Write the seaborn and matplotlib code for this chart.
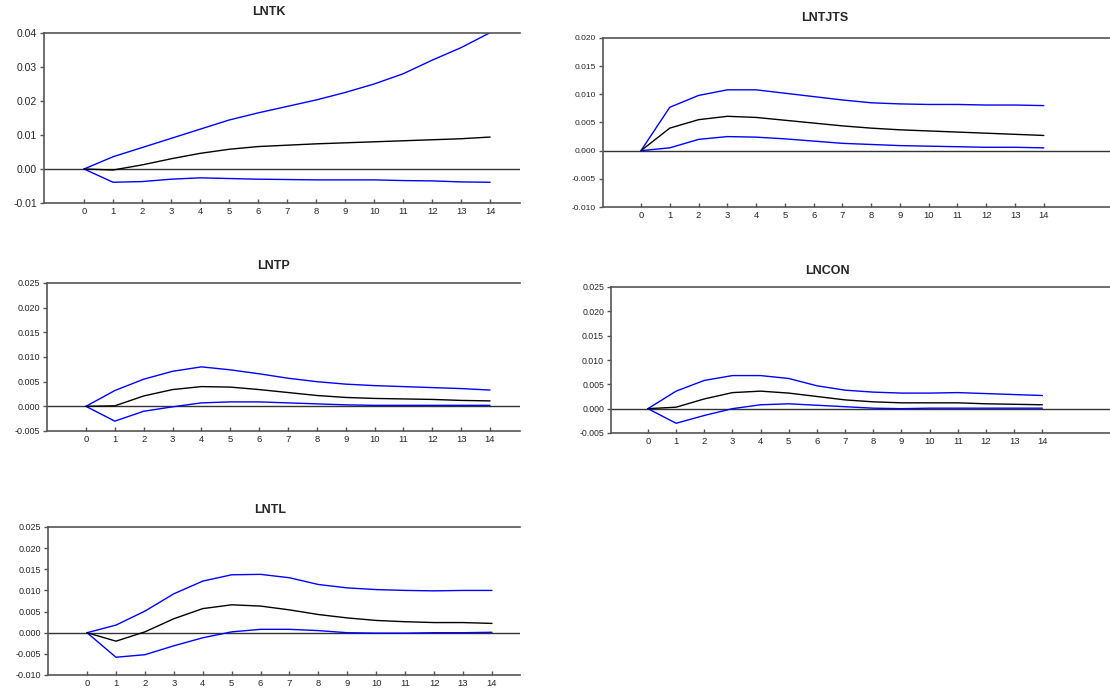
import matplotlib
matplotlib.use("Agg")
import matplotlib.pyplot as plt
import seaborn as sns
import pandas as pd

# periods 0..14 (impulse response horizon)
periods = list(range(15))

# LNTK
lntk_resp = [0, -0.0003, 0.0012, 0.0030, 0.0046, 0.0058, 0.0066, 0.0070, 0.0074, 0.0077, 0.0080, 0.0083, 0.0086, 0.0089, 0.0094]
lntk_upper = [0, 0.0036, 0.0063, 0.0090, 0.0117, 0.0144, 0.0165, 0.0184, 0.0203, 0.0225, 0.0250, 0.0280, 0.0320, 0.0357, 0.0401]
lntk_lower = [0, -0.0039, -0.0037, -0.0030, -0.0026, -0.0028, -0.0030, -0.0031, -0.0032, -0.0032, -0.0032, -0.0034, -0.0035, -0.0038, -0.0039]

# LNTJTS
lntjts_resp = [0, 0.0040, 0.0055, 0.0061, 0.0059, 0.0054, 0.0049, 0.0044, 0.0040, 0.0037, 0.0035, 0.0033, 0.0031, 0.0029, 0.0027]
lntjts_upper = [0, 0.0077, 0.0098, 0.0108, 0.0108, 0.0102, 0.0096, 0.0090, 0.0085, 0.0083, 0.0082, 0.0082, 0.0081, 0.0081, 0.0080]
lntjts_lower = [0, 0.0005, 0.0020, 0.0025, 0.0024, 0.0021, 0.0017, 0.0013, 0.0011, 0.0009, 0.0008, 0.0007, 0.0006, 0.0006, 0.0005]

# LNTP
lntp_resp = [0, 0.0001, 0.0021, 0.0034, 0.0040, 0.0039, 0.0034, 0.0028, 0.0022, 0.0018, 0.0016, 0.0015, 0.0014, 0.0012, 0.0011]
lntp_upper = [0, 0.0032, 0.0055, 0.0071, 0.0080, 0.0074, 0.0066, 0.0057, 0.0050, 0.0045, 0.0042, 0.0040, 0.0038, 0.0036, 0.0033]
lntp_lower = [0, -0.0030, -0.0010, -0.0001, 0.0007, 0.0009, 0.0009, 0.0007, 0.0005, 0.0003, 0.0002, 0.0002, 0.0002, 0.0002, 0.0002]

# LNCON
lncon_resp = [0, 0.0003, 0.0020, 0.0033, 0.0036, 0.0032, 0.0025, 0.0018, 0.0014, 0.0012, 0.0012, 0.0012, 0.0010, 0.0009, 0.0008]
lncon_upper = [0, 0.0036, 0.0058, 0.0068, 0.0068, 0.0062, 0.0047, 0.0038, 0.0034, 0.0032, 0.0032, 0.0033, 0.0031, 0.0029, 0.0027]
lncon_lower = [0, -0.0030, -0.0014, 0.0000, 0.0008, 0.0010, 0.0007, 0.0004, 0.0001, 0.0000, 0.0001, 0.0001, 0.0001, 0.0001, 0.0001]

# LNTL
lntl_resp = [0, -0.0020, 0.0002, 0.0033, 0.0057, 0.0066, 0.0063, 0.0054, 0.0043, 0.0035, 0.0029, 0.0026, 0.0024, 0.0024, 0.0022]
lntl_upper = [0, 0.0018, 0.0051, 0.0092, 0.0122, 0.0137, 0.0138, 0.0130, 0.0114, 0.0106, 0.0102, 0.0100, 0.0099, 0.0100, 0.0100]
lntl_lower = [0, -0.0058, -0.0052, -0.0031, -0.0012, 0.0002, 0.0008, 0.0008, 0.0005, 0.0000, -0.0001, -0.0001, 0.0000, 0.0000, 0.0001]

sns.set_style("white")
plt.rcParams["font.family"] = ["Liberation Sans", "DejaVu Sans"]

W, H = 1110, 696
fig = plt.figure(figsize=(W / 100, H / 100), dpi=100)

panels = [
    # name, resp, upper, lower, (left, top, right, bottom) px, title (x, y) px, yticks, fmt, ysize, xlim
    ("LNTK", lntk_resp, lntk_upper, lntk_lower, (44, 33, 520, 203), (269, 12),
     [-0.01, 0.0, 0.01, 0.02, 0.03, 0.04], "{:.2f}", 7.5, (-1.38, 15.03)),
    ("LNTJTS", lntjts_resp, lntjts_upper, lntjts_lower, (603, 38, 1110, 207), (825, 18),
     [-0.010, -0.005, 0.0, 0.005, 0.010, 0.015, 0.020], "{:.3f}", 6.0, (-1.32, 16.3)),
    ("LNTP", lntp_resp, lntp_upper, lntp_lower, (47, 283, 520, 431), (273, 266),
     [-0.005, 0.0, 0.005, 0.010, 0.015, 0.020, 0.025], "{:.3f}", 6.5, (-1.35, 15.04)),
    ("LNCON", lncon_resp, lncon_upper, lncon_lower, (611, 287, 1110, 433), (827, 271),
     [-0.005, 0.0, 0.005, 0.010, 0.015, 0.020, 0.025], "{:.3f}", 6.3, (-1.31, 16.4)),
    ("LNTL", lntl_resp, lntl_upper, lntl_lower, (48, 527, 520, 675), (270, 510),
     [-0.010, -0.005, 0.0, 0.005, 0.010, 0.015, 0.020, 0.025], "{:.3f}", 6.5, (-1.35, 14.97)),
]

for name, resp, upper, lower, box, tpos, yticks, fmt, ysize, xlim in panels:
    l, t, r, b = box
    ax = fig.add_axes([l / W, 1 - b / H, (r - l) / W, (b - t) / H])
    df = pd.DataFrame({"period": periods, "resp": resp, "upper": upper, "lower": lower})
    ax.axhline(0, color="#333333", lw=1.0, zorder=1)
    sns.lineplot(data=df, x="period", y="upper", color="#0000ff", lw=1.0, ax=ax)
    sns.lineplot(data=df, x="period", y="lower", color="#0000ff", lw=1.0, ax=ax)
    sns.lineplot(data=df, x="period", y="resp", color="black", lw=1.0, ax=ax)
    ax.set_xlim(*xlim)
    ax.set_ylim(yticks[0], yticks[-1])
    ax.set_xticks(periods)
    ax.set_xticklabels([str(p) for p in periods], fontsize=6.8)
    ax.set_yticks(yticks)
    ax.set_yticklabels([fmt.format(v).replace("-0.000", "0.000") for v in yticks], fontsize=ysize)
    ax.set_xlabel("")
    ax.set_ylabel("")
    ax.tick_params(axis="x", direction="in", length=3, width=1, pad=3, color="#555555", bottom=True)
    ax.tick_params(axis="y", length=3, width=1, pad=2, color="#555555", left=True)
    ax.spines["right"].set_visible(False)
    for side in ["left", "top", "bottom"]:
        ax.spines[side].set_color("#555555")
        ax.spines[side].set_linewidth(1.2)
    fig.text(tpos[0] / W, 1 - tpos[1] / H, name, ha="center", va="center",
             fontsize=9, fontweight="bold")

fig.savefig("out.png", dpi=100)
